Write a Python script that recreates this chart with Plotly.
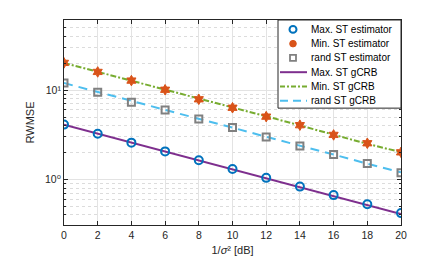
import plotly.graph_objects as go

# ---------------- data ----------------
snr_db = [0, 2, 4, 6, 8, 10, 12, 14, 16, 18, 20]

max_est = [4.11, 3.25, 2.58, 2.06, 1.64, 1.31, 1.04, 0.83, 0.667, 0.526, 0.419]
min_est = [20.2, 16.0, 12.8, 10.1, 7.9, 6.35, 5.05, 4.05, 3.15, 2.54, 2.01]
rand_est = [12.0, 9.5, 7.3, 6.0, 4.75, 3.81, 2.98, 2.37, 1.90, 1.51, 1.19]

max_crb = [4.10, 3.26, 2.59, 2.06, 1.63, 1.30, 1.03, 0.82, 0.65, 0.52, 0.41]
min_crb = [20.2, 16.0, 12.7, 10.1, 8.0, 6.4, 5.1, 4.0, 3.2, 2.5, 2.02]
rand_crb = [12.0, 9.6, 7.6, 6.0, 4.8, 3.8, 3.0, 2.4, 1.9, 1.5, 1.2]

x_ticks = [0, 2, 4, 6, 8, 10, 12, 14, 16, 18, 20]
y_ticks = [1, 10]
y_tick_text = ["10\u2070", "10\u00b9"]
y_minor = [0.4, 0.5, 0.6, 0.7, 0.8, 0.9, 2, 3, 4, 5, 6, 7, 8, 9, 20, 30, 40, 50]

names = ["Max. ST estimator", "Min. ST estimator", "rand ST estimator",
         "Max. ST gCRB", "Min. ST gCRB", "rand ST gCRB"]

# ---------------- styles ----------------
C_BLUE = "#0072BD"
C_ORANGE = "#D95319"
C_GRAY = "#808080"
C_PURPLE = "#7E2F8E"
C_GREEN = "#77AC30"
C_LBLUE = "#4DBEEE"
AX = "#262626"
FONT = "Liberation Sans, Arial, DejaVu Sans, sans-serif"

W, H = 436, 257
ML, MR, MT, MB = 56, 43, 11, 39

fig = go.Figure()

# gCRB lines
fig.add_trace(go.Scatter(x=snr_db, y=max_crb, mode="lines", name=names[3],
                         line=dict(color=C_PURPLE, width=2, dash="solid"), showlegend=False))
fig.add_trace(go.Scatter(x=snr_db, y=min_crb, mode="lines", name=names[4],
                         line=dict(color=C_GREEN, width=2, dash="6px,2px,2px,2px"), showlegend=False))
fig.add_trace(go.Scatter(x=snr_db, y=rand_crb, mode="lines", name=names[5],
                         line=dict(color=C_LBLUE, width=2, dash="9px,6px"), showlegend=False))

# estimator markers
fig.add_trace(go.Scatter(x=snr_db, y=max_est, mode="markers", name=names[0],
                         marker=dict(symbol="circle-open", size=8, color=C_BLUE,
                                     line=dict(width=2, color=C_BLUE)), showlegend=False))
fig.add_trace(go.Scatter(x=snr_db, y=min_est, mode="markers", name=names[1],
                         marker=dict(symbol="hexagram", size=8, color=C_ORANGE,
                                     line=dict(width=1, color=C_ORANGE)), showlegend=False))
fig.add_trace(go.Scatter(x=snr_db, y=rand_est, mode="markers", name=names[2],
                         marker=dict(symbol="square-open", size=7, color=C_GRAY,
                                     line=dict(width=2, color=C_GRAY)), showlegend=False))

# ---------------- compact legend box (MATLAB-like) ----------------
PW = W - ML - MR
PH = H - MT - MB


def px(xp):
    return (xp - ML) / PW


def py(yp):
    return (H - MB - yp) / PH


shapes = []
annotations = []
LX0, LX1, LY0, LY1 = 270, 393, 11, 100
shapes.append(dict(type="rect", xref="paper", yref="paper",
                   x0=px(LX0), x1=px(LX1), y0=py(LY1), y1=py(LY0),
                   fillcolor="white", line=dict(color=AX, width=1), layer="above"))
row0, row_h = 20.5, 14.4
sym_cx, line_x0, line_x1, text_x = 285, 272, 299, 301
for i, nm in enumerate(names):
    yc = row0 + i * row_h
    if i == 0:
        shapes.append(dict(type="circle", xref="paper", yref="paper",
                           x0=px(sym_cx - 3.5), x1=px(sym_cx + 3.5), y0=py(yc + 3.5), y1=py(yc - 3.5),
                           line=dict(color=C_BLUE, width=2), fillcolor="rgba(0,0,0,0)", layer="above"))
    elif i == 1:
        shapes.append(dict(type="circle", xref="paper", yref="paper",
                           x0=px(sym_cx - 3.3), x1=px(sym_cx + 3.3), y0=py(yc + 3.3), y1=py(yc - 3.3),
                           line=dict(color=C_ORANGE, width=1), fillcolor=C_ORANGE, layer="above"))
    elif i == 2:
        shapes.append(dict(type="rect", xref="paper", yref="paper",
                           x0=px(sym_cx - 3), x1=px(sym_cx + 3), y0=py(yc + 3), y1=py(yc - 3),
                           line=dict(color=C_GRAY, width=1.8), fillcolor="rgba(0,0,0,0)", layer="above"))
    else:
        col = [C_PURPLE, C_GREEN, C_LBLUE][i - 3]
        dsh = ["solid", "5px,2px,2px,2px", "8px,5px"][i - 3]
        shapes.append(dict(type="line", xref="paper", yref="paper",
                           x0=px(line_x0), x1=px(line_x1), y0=py(yc), y1=py(yc),
                           line=dict(color=col, width=2, dash=dsh), layer="above"))
    annotations.append(dict(text=nm, xref="paper", yref="paper", x=px(text_x), y=py(yc),
                            xanchor="left", yanchor="middle", showarrow=False,
                            font=dict(family=FONT, size=10, color="#000000")))

fig.update_layout(
    width=W, height=H,
    margin=dict(l=ML, r=MR, t=MT, b=MB),
    paper_bgcolor="white", plot_bgcolor="white",
    font=dict(family=FONT, size=10, color=AX),
    showlegend=False,
    shapes=shapes, annotations=annotations,
)

fig.update_xaxes(
    range=[0, 20], tickvals=x_ticks, ticks="inside", ticklen=4, tickcolor=AX,
    showline=True, linecolor=AX, linewidth=1, mirror="ticks",
    showgrid=True, gridcolor="#e3e3e3", gridwidth=1, zeroline=False,
    tickfont=dict(family=FONT, size=10.5, color=AX),
    title=dict(text="1/<i>σ</i>\u00b2 [dB]", standoff=6,
               font=dict(family=FONT, size=11, color=AX)),
)
fig.update_yaxes(
    type="log", range=[-0.511, 1.786], tickvals=y_ticks, ticktext=y_tick_text,
    ticks="inside", ticklen=4, tickcolor=AX,
    showline=True, linecolor=AX, linewidth=1, mirror="ticks",
    showgrid=True, gridcolor="#e3e3e3", gridwidth=1, zeroline=False,
    tickfont=dict(family=FONT, size=10.5, color=AX),
    minor=dict(tickvals=y_minor, ticks="inside", ticklen=2, tickcolor=AX,
               showgrid=True, gridcolor="#dcdcdc", griddash="dot", gridwidth=1),
    title=dict(text="RWMSE", standoff=8, font=dict(family=FONT, size=11, color=AX)),
)

fig.write_html("out.html")
